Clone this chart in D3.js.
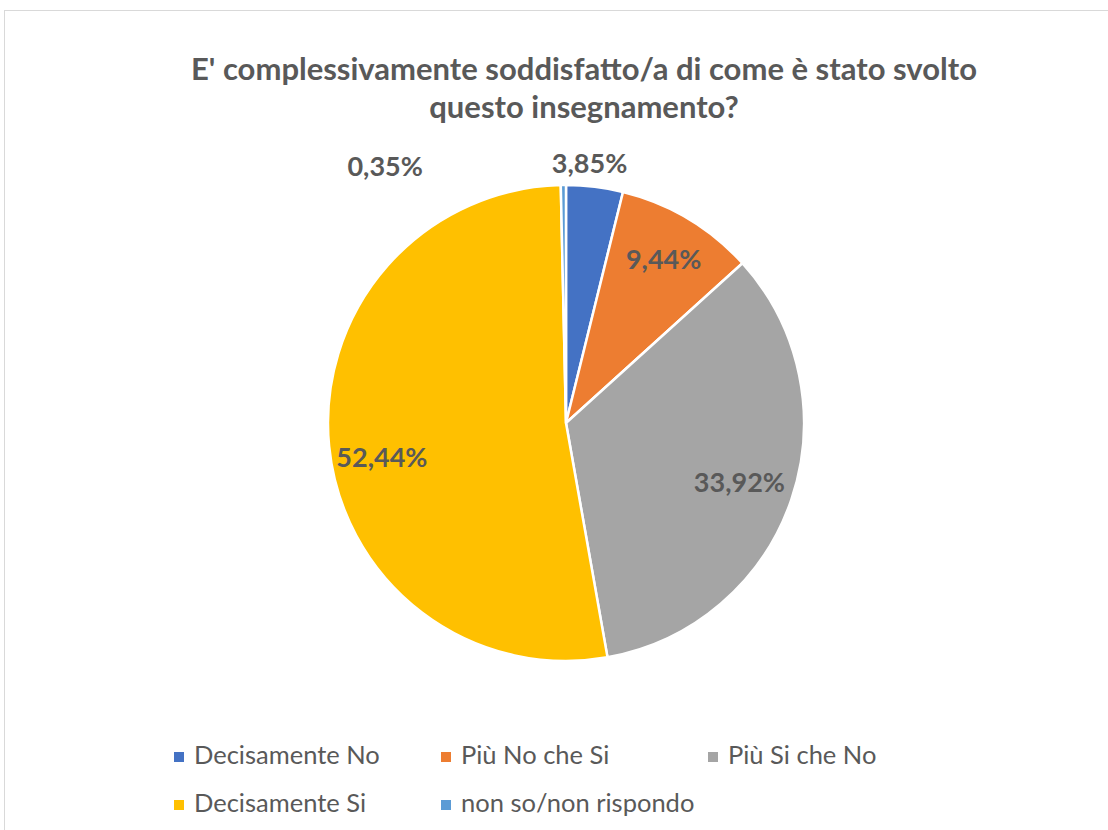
<!DOCTYPE html>
<html>
<head>
<meta charset="utf-8">
<script src="https://cdn.jsdelivr.net/npm/d3@7/dist/d3.min.js"></script>
<style>
  html, body { margin: 0; padding: 0; background: #fff; }
  svg { display: block; }
</style>
</head>
<body>
<svg id="chart" width="1108" height="830"></svg>
<script>
// ---- Data ----
const titleLines = ["E' complessivamente soddisfatto/a di come è stato svolto", "questo insegnamento?"];
const categories = ["Decisamente No", "Più No che Si", "Più Si che No", "Decisamente Si", "non so/non rispondo"];
const values = [3.85, 9.44, 33.92, 52.44, 0.35];
const valueLabels = ["3,85%", "9,44%", "33,92%", "52,44%", "0,35%"];
const colors = ["#4472C4", "#ED7D31", "#A5A5A5", "#FFC000", "#5B9BD5"];

// label placement style: radius factor (relative to pie radius) and shifts
const labelRadiusFactor = [1.10, 0.80, 0.77, 0.79, 1.08];
const labelShiftX = [-8, 0, 0, 3, -178];
const labelShiftY = [0, 0, 0, 16, 0];

const svg = d3.select("#chart");
const textColor = "#595959";
const fontFamily = "Lato, 'Open Sans', sans-serif";

// chart border
svg.append("rect")
  .attr("x", 4.5).attr("y", 10.5)
  .attr("width", 1200).attr("height", 900)
  .attr("fill", "#fff")
  .attr("stroke", "#D9D9D9")
  .attr("stroke-width", 1);

// title
svg.append("text")
  .attr("x", 584).attr("y", 80)
  .attr("text-anchor", "middle")
  .attr("font-family", fontFamily)
  .attr("font-weight", "bold")
  .attr("font-size", 31)
  .attr("fill", textColor)
  .selectAll("tspan")
  .data(titleLines)
  .join("tspan")
  .attr("x", 584)
  .attr("dy", (d, i) => i === 0 ? 0 : 38)
  .text(d => d);

// pie
const cx = 566, cy = 423, radius = 238;
const pie = d3.pie().sort(null).value(d => d.value);
const data = categories.map((c, i) => ({ name: c, value: values[i], label: valueLabels[i], color: colors[i], idx: i }));
const arcs = pie(data);
const arc = d3.arc().innerRadius(0).outerRadius(radius);

const g = svg.append("g").attr("transform", `translate(${cx},${cy})`);
g.selectAll("path.slice")
  .data(arcs)
  .join("path")
  .attr("class", "slice")
  .attr("d", arc)
  .attr("fill", d => d.data.color)
  .attr("stroke", "#fff")
  .attr("stroke-width", 2.5)
  .attr("stroke-linejoin", "round");

g.selectAll("text.lbl")
  .data(arcs)
  .join("text")
  .attr("class", "lbl")
  .attr("transform", d => {
    const r = radius * labelRadiusFactor[d.data.idx];
    const [x, y] = d3.arc().innerRadius(r).outerRadius(r).centroid(d);
    return `translate(${x + labelShiftX[d.data.idx]},${y + labelShiftY[d.data.idx]})`;
  })
  .attr("text-anchor", "middle")
  .attr("dy", "0.36em")
  .attr("font-family", fontFamily)
  .attr("font-weight", "bold")
  .attr("font-size", 27)
  .attr("fill", textColor)
  .text(d => d.data.label);

// legend
const legendX0 = 174, legendColW = 267, legendY0 = 752, legendRowH = 48, perRow = 3;
const leg = svg.append("g");
const items = leg.selectAll("g")
  .data(data)
  .join("g")
  .attr("transform", (d, i) => `translate(${legendX0 + (i % perRow) * legendColW},${legendY0 + Math.floor(i / perRow) * legendRowH})`);
items.append("rect")
  .attr("width", 10).attr("height", 10)
  .attr("fill", d => d.color);
items.append("text")
  .attr("x", 20).attr("y", 12)
  .attr("font-family", fontFamily)
  .attr("font-size", 25.5)
  .attr("fill", textColor)
  .text(d => d.name);
</script>
</body>
</html>
